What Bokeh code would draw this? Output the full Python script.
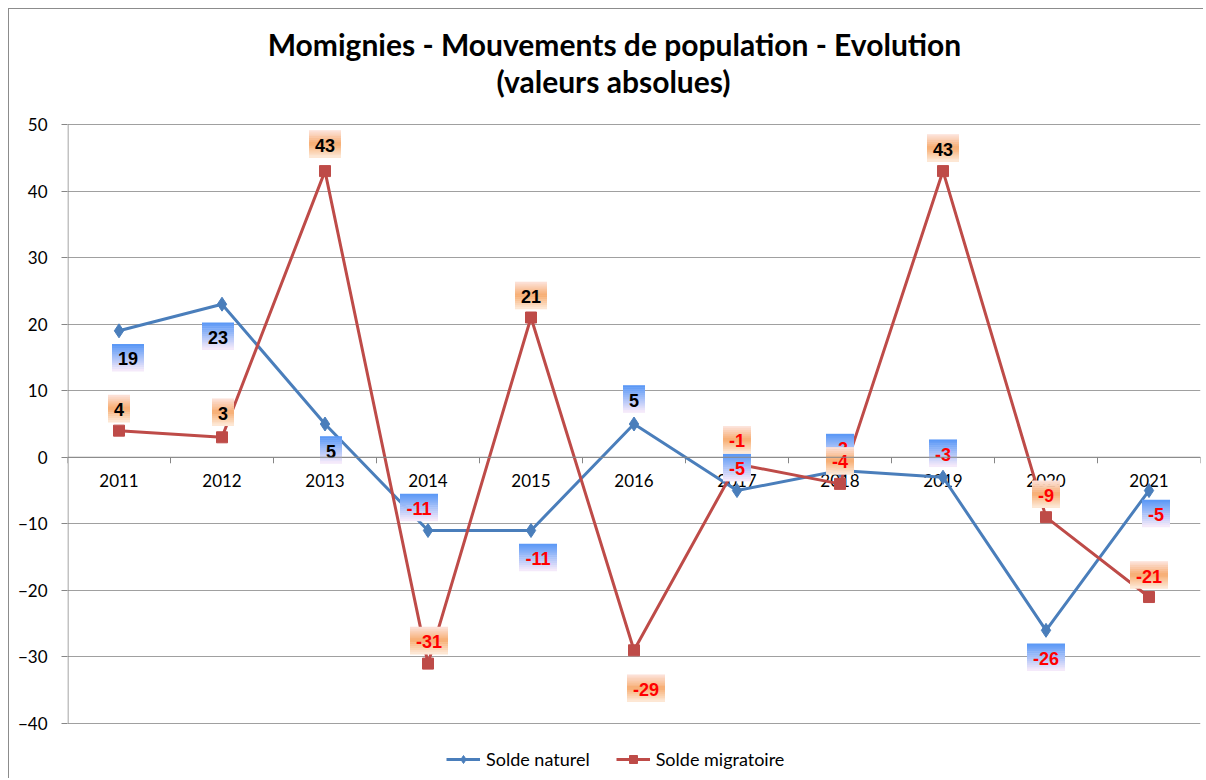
from bokeh.plotting import figure
from bokeh.models import (Range1d, FixedTicker, ColumnDataSource, Legend, LegendItem, Label, Span)
from bokeh.embed import file_html
from bokeh.resources import INLINE

title_lines = ["Momignies - Mouvements de population - Evolution", "(valeurs absolues)"]
years = ["2011", "2012", "2013", "2014", "2015", "2016", "2017", "2018", "2019", "2020", "2021"]
solde_naturel = [19, 23, 5, -11, -11, 5, -5, -2, -3, -26, -5]
solde_migratoire = [4, 3, 43, -31, 21, -29, -1, -4, 43, -9, -21]
y_ticks = [-40, -30, -20, -10, 0, 10, 20, 30, 40, 50]

# label placement offsets (screen px, dx right, dy down)
nat_label_dx = [9, -4, 6, -9, 7, 0, 0, 0, 0, 0, 7]
nat_label_dy = [27, 32, 26, -23, 27, -25, -23, -23, -24, 27, 23]
mig_label_dx = [0, 1, 0, 1, 0, 12, 0, 0, 0, 0, 0]
mig_label_dy = [-22, -25, -27, -23, -22, 38, -24, -23, -23, -23, -22]

# geometry (px): plot area 124..723 vertically, 67..1200 horizontally; canvas top at 9
PLOT_W, PLOT_H = 1133, 599
TOP_SPACE, BOTTOM_SPACE = 115, 55
Y0, Y1 = -40, 50
NX = len(years)
ppx = PLOT_W / NX
ppy = PLOT_H / (Y1 - Y0)
YLO = Y0 - BOTTOM_SPACE / ppy
YHI = Y1 + TOP_SPACE / ppy

BLUE = "#4a7ebb"
RED = "#be4b48"
GRID = "#a0a0a0"
AXIS = "#868686"
FONT = "Lato"

p = figure(frame_width=PLOT_W, frame_height=PLOT_H + TOP_SPACE + BOTTOM_SPACE,
           output_backend="svg", toolbar_location=None,
           x_range=Range1d(0, NX), y_range=Range1d(YLO, YHI),
           x_axis_location=None,
           min_border_left=58, min_border_right=3, min_border_top=0, min_border_bottom=0)
p.outline_line_color = None
p.background_fill_color = "white"
p.border_fill_color = "white"
p.styles = {"border-top": "1px solid #8c8c8c", "border-left": "1px solid #8c8c8c",
            "margin": "8px 0px 0px 8px"}

# titles (two centred lines above the plot area)
title_px = [(614, 43), (613, 80)]
for line, (tx, ty) in zip(title_lines, title_px):
    p.add_layout(Label(x=(tx - 67) / ppx, y=Y1 + (124 - ty) / ppy, text=line,
                       text_align="center", text_baseline="middle", text_font=FONT,
                       text_font_size="30px", text_font_style="bold", text_color="black"))

# y axis
p.yaxis.ticker = FixedTicker(ticks=y_ticks)
p.yaxis.axis_line_color = None
p.yaxis.major_tick_line_color = AXIS
p.yaxis.major_tick_out = 6
p.yaxis.major_tick_in = 0
p.yaxis.minor_tick_line_color = None
p.yaxis.major_label_text_font = FONT
p.yaxis.major_label_text_font_size = "17px"
p.yaxis.major_label_text_color = "black"
p.yaxis.major_label_standoff = 14
p.segment(x0=[0.5 / ppx], y0=[Y0], x1=[0.5 / ppx], y1=[Y1], line_color=AXIS, line_width=1)

p.xgrid.grid_line_color = None
p.ygrid.grid_line_color = GRID
p.ygrid.grid_line_width = 1
p.ygrid.ticker = FixedTicker(ticks=y_ticks)

# category axis drawn on the zero line
xs = [i + 0.5 for i in range(NX)]
bounds = list(range(NX + 1))
p.add_layout(Span(location=0, dimension="width", line_color=AXIS, line_width=1))
p.segment(x0=bounds, y0=[0] * len(bounds), x1=bounds, y1=[-6 / ppy] * len(bounds),
          line_color=AXIS, line_width=1)
p.text(x=xs, y=[0] * NX, text=years, text_align="center", text_baseline="middle",
       y_offset=23, text_font={"value": FONT}, text_font_size="17px", text_color="black")

# series
ln1 = p.line(xs, solde_naturel, line_color=BLUE, line_width=3)
sc1 = p.scatter(xs, solde_naturel, marker="diamond", size=14, fill_color=BLUE, line_color=BLUE)
ln2 = p.line(xs, solde_migratoire, line_color=RED, line_width=3)
sc2 = p.scatter(xs, solde_migratoire, marker="square", size=11, fill_color=RED, line_color=RED)


def lerp(c1, c2, t):
    return tuple(int(round(a + (b - a) * t)) for a, b in zip(c1, c2))


def blue_grad(t):
    return lerp((86, 150, 246), (250, 236, 250), t)


def orange_grad(t):
    if t < 0.5:
        return lerp((252, 228, 222), (247, 172, 112), t / 0.5)
    return lerp((247, 172, 112), (253, 236, 220), (t - 0.5) / 0.5)


def add_labels(vals, dxs, dys, grad):
    H = 27
    NS = 14
    sx, sy, sw, sc = [], [], [], []
    tx, ty, tt, tc = [], [], [], []
    for i, v in enumerate(vals):
        s = str(v)
        digits = len(s.replace("-", ""))
        w = 12 + 10 * digits + (6 if v < 0 else 0)
        cx = xs[i] + dxs[i] / ppx
        cy_px = dys[i]
        for k in range(NS):
            t = (k + 0.5) / NS
            off = cy_px - H / 2 + t * H
            sx.append(cx)
            sy.append(v - off / ppy)
            sw.append(w)
            r, g, b = grad(t)
            sc.append("#%02x%02x%02x" % (r, g, b))
        tx.append(cx)
        ty.append(v - (cy_px + 1) / ppy)
        tt.append(s)
        tc.append("#ff0000" if v < 0 else "black")
    src = ColumnDataSource(dict(x=sx, y=sy, w=sw, c=sc))
    p.rect("x", "y", width="w", height=H / NS + 0.6, width_units="screen", height_units="screen",
           fill_color="c", line_color=None, source=src)
    tsrc = ColumnDataSource(dict(x=tx, y=ty, t=tt, c=tc))
    p.text("x", "y", text="t", text_color="c", source=tsrc, text_align="center",
           text_baseline="middle", text_font_size="18px", text_font_style="bold",
           text_font={"value": "Liberation Sans"})


add_labels(solde_naturel, nat_label_dx, nat_label_dy, blue_grad)
add_labels(solde_migratoire, mig_label_dx, mig_label_dy, orange_grad)

legend = Legend(items=[LegendItem(label="Solde naturel", renderers=[ln1, sc1]),
                       LegendItem(label="Solde migratoire", renderers=[ln2, sc2])],
                orientation="horizontal", location=(379, 8),
                label_text_font=FONT, label_text_font_size="18px", label_text_color="black",
                label_height=20, glyph_height=20, label_standoff=6,
                border_line_color=None, background_fill_alpha=0, glyph_width=34, spacing=26,
                padding=5, margin=0)
p.add_layout(legend)

open("out.html", "w").write(file_html(p, INLINE))
